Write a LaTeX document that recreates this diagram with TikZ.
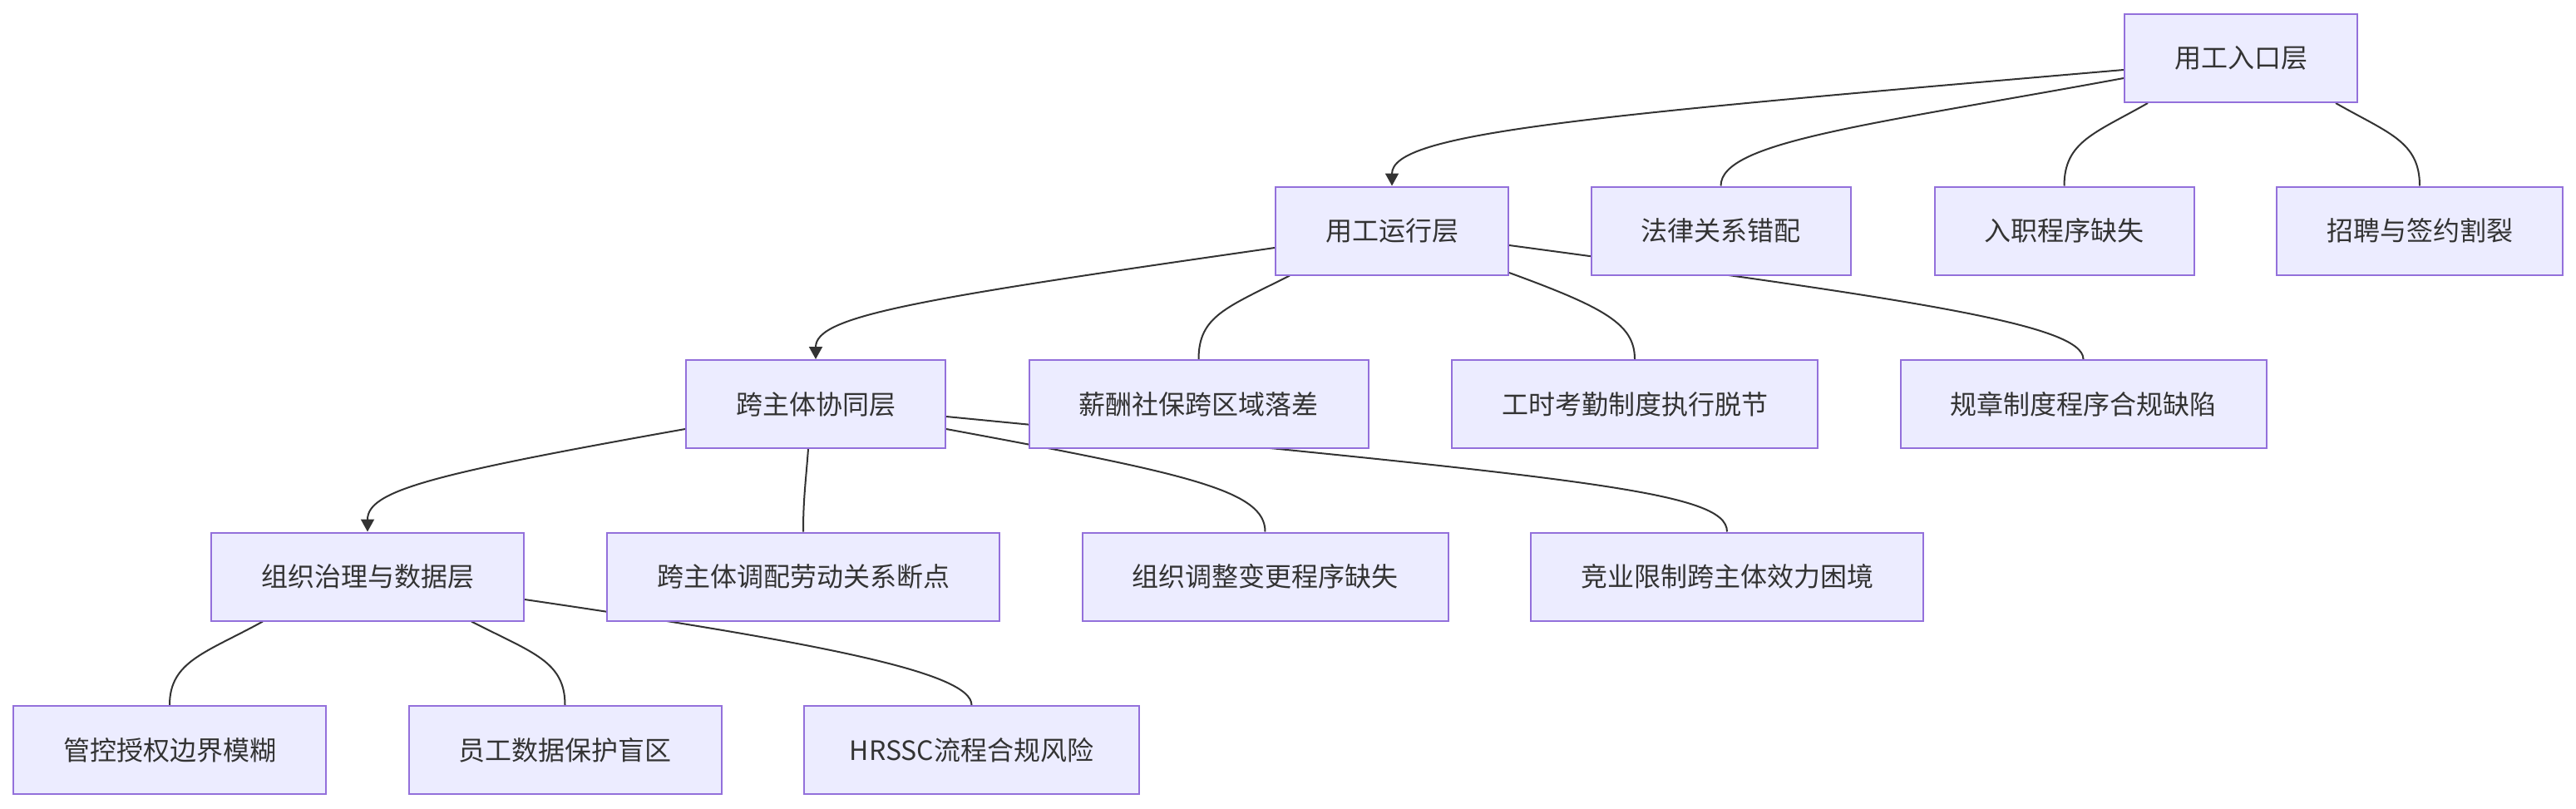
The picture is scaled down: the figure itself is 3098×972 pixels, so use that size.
\documentclass[tikz,border=0pt]{standalone}
\usepackage{fontspec}
\newfontfamily\cjk{Noto Sans CJK SC}
\usetikzlibrary{arrows.meta}
\definecolor{boxfill}{HTML}{ECECFF}
\definecolor{boxline}{HTML}{9370DB}
\definecolor{edgecol}{HTML}{333333}
\pgfdeclarelayer{bg}
\pgfdeclarelayer{edges}
\pgfsetlayers{bg,edges,main}
\begin{document}
\begin{tikzpicture}[x=1pt,y=-1pt,
  box/.style={draw=boxline, fill=boxfill, line width=2pt, minimum height=106pt,
    inner xsep=60pt, inner ysep=0pt, text=edgecol, font=\cjk\fontsize{32}{38}\selectfont},
  link/.style={draw=edgecol, line width=2pt},
  arrowlink/.style={link, -{Triangle[length=15pt,width=16pt]}}]
\begin{pgfonlayer}{bg}
\fill[white] (0,0) rectangle (3098,972);
\end{pgfonlayer}
\useasboundingbox (0,0) rectangle (3098,972);

\node[box] (n1) at (2695,70) {用工入口层};

\node[box] (n2) at (1674,277.5) {用工运行层};
\node[box] (a1) at (2069.5,277.5) {法律关系错配};
\node[box] (a2) at (2482.5,277.5) {入职程序缺失};
\node[box] (a3) at (2910,277.5) {招聘与签约割裂};

\node[box] (n3) at (981,486) {跨主体协同层};
\node[box] (b1) at (1441.5,486) {薪酬社保跨区域落差};
\node[box] (b2) at (1966,486) {工时考勤制度执行脱节};
\node[box] (b3) at (2505.5,486) {规章制度程序合规缺陷};

\node[box] (n4) at (442,693.5) {组织治理与数据层};
\node[box] (c1) at (966,693.5) {跨主体调配劳动关系断点};
\node[box] (c2) at (1521.5,693.5) {组织调整变更程序缺失};
\node[box] (c3) at (2077,693.5) {竞业限制跨主体效力困境};

\node[box] (d1) at (204,902) {管控授权边界模糊};
\node[box] (d2) at (679.5,902) {员工数据保护盲区};
\node[box, inner xsep=55pt] (d3) at (1168.5,902) {HRSSC流程合规风险};

\begin{pgfonlayer}{edges}
\draw[arrowlink] ([yshift=-14pt]n1.west) .. controls (1900,140) and (1674,160) .. (n2.north);
\draw[link] ([yshift=-24pt]n1.west) .. controls (2250,150) and (2069.5,170) .. (a1.north);
\draw[link] ([xshift=-112pt]n1.south) .. controls (2520,160) and (2482.5,170) .. (a2.north);
\draw[link] ([xshift=114pt]n1.south) .. controls (2872,160) and (2910,170) .. (a3.north);

\draw[arrowlink] ([yshift=-20.5pt]n2.west) .. controls (1100,360) and (981,380) .. (n3.north);
\draw[link] ([xshift=-123pt]n2.south) .. controls (1475,370) and (1441.5,380) .. (b1.north);
\draw[link] ([yshift=-50.5pt]n2.east) .. controls (1930,370) and (1966,390) .. (b2.north);
\draw[link] ([yshift=-17.5pt]n2.east) .. controls (2300,360) and (2505.5,390) .. (b3.north);

\draw[arrowlink] ([yshift=-30pt]n3.west) .. controls (520,570) and (442,590) .. (n4.north);
\draw[link] ([xshift=-9pt]n3.south) .. controls (969,580) and (966,600) .. (c1.north);
\draw[link] ([yshift=-30pt]n3.east) .. controls (1430,570) and (1521.5,590) .. (c2.north);
\draw[link] ([yshift=-15pt]n3.east) .. controls (1900,575) and (2077,590) .. (c3.north);

\draw[link] ([xshift=-126pt]n4.south) .. controls (248,785) and (204,795) .. (d1.north);
\draw[link] ([xshift=125pt]n4.south) .. controls (640,785) and (679.5,795) .. (d2.north);
\draw[link] ([yshift=-27.5pt]n4.east) .. controls (1000,775) and (1168.5,810) .. (d3.north);
\end{pgfonlayer}
\end{tikzpicture}
\end{document}
